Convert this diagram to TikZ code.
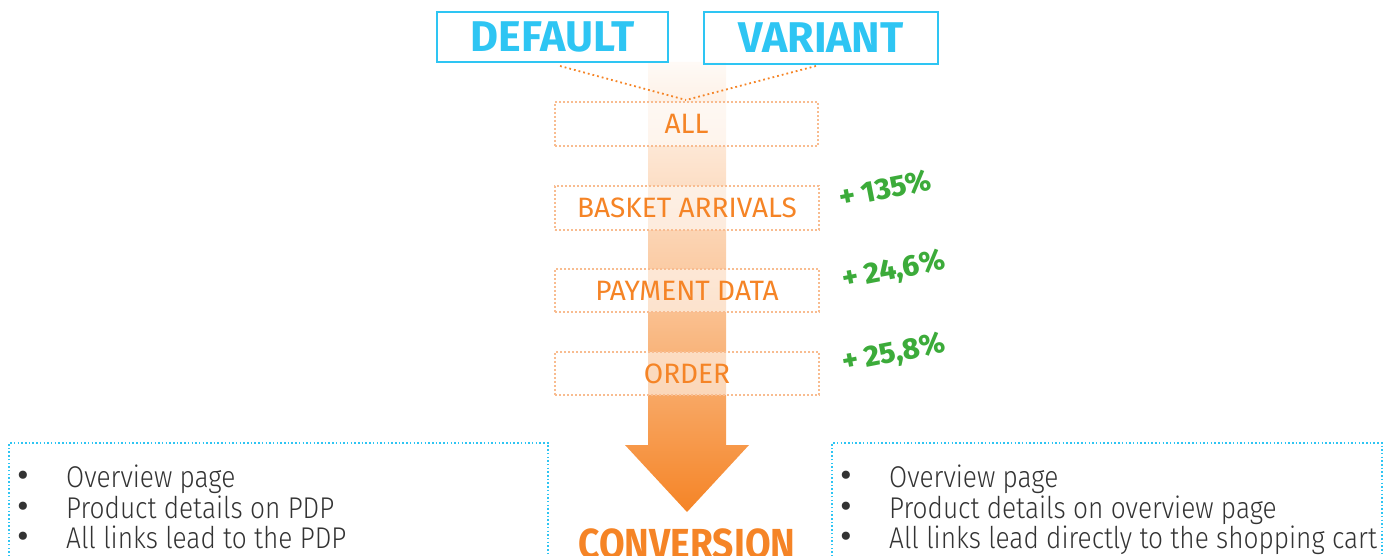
\documentclass[tikz,border=0pt]{standalone}
\usepackage{fontspec}
\setmainfont{Fira Sans}
\newfontfamily\lightfont[FakeStretch=0.875]{Fira Sans Light}
\newfontfamily\narrowbold[FakeStretch=0.885]{Fira Sans Bold}
\newfontfamily\heavyfont{Fira Sans ExtraBold}
\usetikzlibrary{calc}
\definecolor{cblue}{HTML}{2EC5F3}
\definecolor{corange}{HTML}{F58426}
\definecolor{clorange}{HTML}{F8BC90}
\definecolor{cgreen}{HTML}{3CAB3A}
\definecolor{ctext}{HTML}{333333}
\tikzset{
  headbox/.style={draw=cblue,line width=2pt,inner sep=0pt,text=cblue,font=\bfseries\fontsize{43}{50}\selectfont},
  stagebox/.style={draw=clorange,line width=1.6pt,dash pattern=on 1.6pt off 2.4pt,fill=white,fill opacity=0.55,text opacity=1,text=corange,font=\fontsize{28}{32}\selectfont,inner sep=0pt},
  gain/.style={text=cgreen,font=\heavyfont\fontsize{29.5}{32}\selectfont,rotate=11},
  infobox/.style={draw=cblue,line width=1.5pt,dash pattern=on 1.5pt off 2.2pt},
  bul/.style={anchor=base west,text=ctext,font=\lightfont\fontsize{30}{34}\selectfont,inner sep=0pt},
  dot/.style={anchor=base west,text=ctext,font=\fontsize{36}{36}\selectfont,inner sep=0pt},
  link/.style={draw=corange,line width=1.8pt,dash pattern=on 1.8pt off 3pt},
}
\begin{document}
\begin{tikzpicture}[x=1pt,y=-1pt]
\useasboundingbox (0,0) rectangle (1389,556);
\clip (0,0) rectangle (1389,556);
% arrow
\shade[top color=corange!4,bottom color=corange,middle color=corange!45]
  (648,62) -- (726,62) -- (726,445) -- (749,445) -- (687,512) -- (625,445) -- (648,445) -- cycle;
% head boxes
\node[headbox,minimum width=231pt,minimum height=50pt] (def) at (552.5,37) {\raisebox{-2pt}{DEFAULT}};
\node[headbox,minimum width=234pt,minimum height=52pt] (var) at (821,38) {\raisebox{-2pt}{VARIANT}};
\coordinate (join) at (686,100);
\draw[link] (560,66) -- (join);
\draw[link] (816,66) -- (join);
% stages
\node[stagebox,minimum width=263pt,minimum height=44pt] (all) at (686.5,124) {ALL};
\node[stagebox,minimum width=264pt,minimum height=44pt] (bask) at (687,208) {BASKET ARRIVALS};
\node[stagebox,minimum width=264pt,minimum height=43pt] (pay) at (687,290.5) {PAYMENT DATA};
\node[stagebox,minimum width=264pt,minimum height=43pt] (ord) at (687,373.5) {ORDER};
% gains
\node[gain] (g1) at (885,189) {+ 135\%};
\node[gain] (g2) at (894,271) {+ 24,6\%};
\node[gain] (g3) at (894,354) {+ 25,8\%};
% conversion
\node[anchor=base,text=corange,font=\narrowbold\fontsize{42}{46}\selectfont,inner sep=0pt] (conv) at (687,558) {CONVERSION};
% info boxes
\draw[infobox] (9,575) -- (9,443) -- (548,443) -- (548,575);
\draw[infobox] (832,575) -- (832,443) -- (1382,443) -- (1382,575);
\foreach \y/\t [count=\i] in {487/Overview page,518/Product details on PDP,548/All links lead to the PDP}{
  \node[dot] (lb\i) at (17,\y) {\smash{\textbullet}};
  \node[bul] (lt\i) at (66,\y) {\t};
}
\foreach \y/\t [count=\i] in {487/Overview page,518/Product details on overview page,548/All links lead directly to the shopping cart}{
  \node[dot] (rb\i) at (840,\y) {\smash{\textbullet}};
  \node[bul] (rt\i) at (889,\y) {\t};
}
\end{tikzpicture}
\end{document}
